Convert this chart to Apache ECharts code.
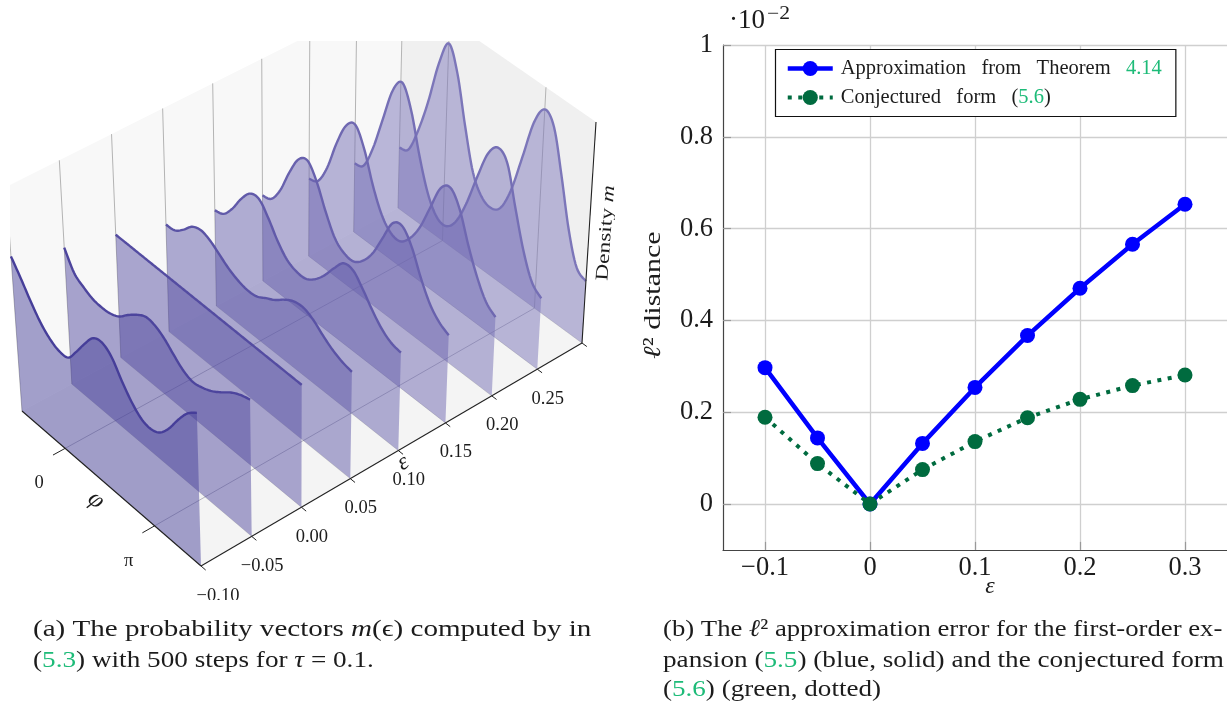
<!DOCTYPE html>
<html><head><meta charset="utf-8">
<style>html,body{margin:0;padding:0;background:#fff}#c{width:1227px;height:703px}</style>
<script src="https://cdn.jsdelivr.net/npm/echarts@6/dist/echarts.min.js"></script>
</head><body><div id="c"></div>
<script>
// ---------- data: right panel ----------
const epsErr = [-0.1,-0.05,0,0.05,0.1,0.15,0.2,0.25,0.3];
const approxErr = [0.297,0.144,0,0.132,0.254,0.367,0.47,0.566,0.653];
const conjErr = [0.189,0.088,0,0.075,0.136,0.188,0.228,0.258,0.281];
const xTicks = [-0.1,0,0.1,0.2,0.3];
const yTicks = [0,0.2,0.4,0.6,0.8,1];
// ---------- data: left panel ----------
const epsTicks = [-0.10,-0.05,0.00,0.05,0.10,0.15,0.20,0.25,0.30];
const epsLabels = ['−0.10','−0.05','0.00','0.05','0.10','0.15','0.20','0.25'];
const phiOverPi = [-0.5,-0.4,-0.3,-0.2,-0.1,0,0.1,0.2,0.3,0.4,0.5,0.6,0.7,0.8,0.9,1,1.1,1.2,1.3,1.4,1.5];
const densA = [.69,.625,.555,.495,.455,.435,.44,.50,.57,.63,.645,.615,.545,.485,.445,.435,.455,.51,.585,.65,.69];
const densB = [.61,.53,.50,.48,.475,.48,.50,.54,.575,.60,.595,.57,.53,.495,.48,.49,.51,.54,.575,.60,.615];
const densC = [.55,.55,.55,.55,.55,.55,.55,.55,.55,.55,.55,.55,.55,.55,.55,.55,.55,.55,.55,.55,.55];
const densD = [.48,.485,.52,.565,.58,.565,.535,.505,.485,.475,.48,.505,.53,.565,.59,.595,.575,.54,.51,.49,.48];
const densE = [.43,.445,.50,.575,.63,.635,.58,.51,.46,.44,.44,.47,.52,.585,.64,.64,.59,.53,.48,.45,.44];
const densF = [.385,.40,.47,.58,.67,.695,.63,.525,.44,.405,.40,.435,.50,.60,.70,.72,.66,.555,.47,.42,.395];
const densG = [.35,.37,.46,.60,.71,.745,.665,.53,.43,.38,.375,.42,.50,.62,.74,.775,.71,.58,.47,.39,.355];
const densH = [.31,.33,.44,.60,.76,.825,.73,.555,.415,.34,.33,.38,.49,.64,.78,.84,.80,.63,.47,.36,.32];
const densI = [.275,.295,.41,.57,.77,.895,.79,.58,.40,.32,.30,.33,.44,.62,.81,.90,.85,.66,.45,.31,.28];
const densities = [densA,densB,densC,densD,densE,densF,densG,densH,densI];

// ---------- projection of the 3-D box ----------
const FONT = 'Liberation Serif';
const TXT = '#1c1c1c';
function squareToQuad(p){
  const [x0,y0]=p[0],[x1,y1]=p[1],[x2,y2]=p[2],[x3,y3]=p[3];
  const dx1=x1-x2,dy1=y1-y2,dx2=x3-x2,dy2=y3-y2,sx=x0-x1+x2-x3,sy=y0-y1+y2-y3;
  const den=dx1*dy2-dx2*dy1, g=(sx*dy2-dx2*sy)/den, h=(dx1*sy-sx*dy1)/den;
  const a=x1-x0+g*x1,b=x3-x0+h*x3,d=y1-y0+g*y1,e=y3-y0+h*y3;
  return (u,v)=>{const w=g*u+h*v+1;return [(a*u+b*v+x0)/w,(d*u+e*v+y0)/w];};
}
const floorQ = squareToQuad([[22,411],[201,566],[582,343],[398,208]]);
const topQ = squareToQuad([[6,187],[195,344],[596,122],[403,-12]]);
const uOf = phi => (phi+0.5)/2;            // phi in units of pi
const vOf = e => (e+0.10)/0.40;
function proj(u,v,w){
  const a=floorQ(u,v), b=topQ(u,v);
  return [a[0]+(b[0]-a[0])*w, a[1]+(b[1]-a[1])*w];
}
function spline(pts){
  const out=[];
  for(let i=0;i<pts.length-1;i++){
    const p0=pts[Math.max(i-1,0)],p1=pts[i],p2=pts[i+1],p3=pts[Math.min(i+2,pts.length-1)];
    for(let k=0;k<8;k++){
      const t=k/8,t2=t*t,t3=t2*t;
      out.push([0,1].map(j=>0.5*(2*p1[j]+(p2[j]-p0[j])*t+(2*p0[j]-5*p1[j]+4*p2[j]-p3[j])*t2+(3*p1[j]-p0[j]-3*p2[j]+p3[j])*t3)));
    }
  }
  out.push(pts[pts.length-1]);
  return out;
}
const mix=(a,b,t)=>Math.round(a+(b-a)*t);

function renderBox(params,api){
  const c=p=>api.coord(p);
  const poly=(pts,fill)=>({type:'polygon',shape:{points:pts.map(c)},style:{fill:fill}});
  const line=(a,b,col,w)=>({type:'line',shape:{x1:c(a)[0],y1:c(a)[1],x2:c(b)[0],y2:c(b)[1]},style:{stroke:col,lineWidth:w,fill:null}});
  const ch=[];
  ch.push(poly([proj(0,0,0),proj(1,0,0),proj(1,1,0),proj(0,1,0)],'#f4f4f4'));
  ch.push(poly([proj(0,0,0),proj(0,1,0),proj(0,1,1),proj(0,0,1)],'#f8f8f8'));
  ch.push(poly([proj(0,1,0),proj(1,1,0),proj(1,1,1),proj(0,1,1)],'#f0f0f0'));
  epsTicks.forEach(e=>{
    const v=vOf(e);
    ch.push(line(proj(0,v,0),proj(0,v,1),'#b4b4b4',1));
    ch.push(line(proj(0,v,0),proj(1,v,0),'rgba(0,0,0,0.15)',1));
  });
  [0,1].forEach(ph=>{
    const u=uOf(ph);
    ch.push(line(proj(u,0,0),proj(u,1,0),'rgba(60,60,90,0.35)',1));
    ch.push(line(proj(u,1,0),proj(u,1,1),'#b4b4b4',1));
  });
  return {type:'group',children:ch};
}
function renderRibbon(params,api){
  const i=api.value(0), v=vOf(epsTicks[i]), vals=densities[i], t=i/8;
  const top=spline(phiOverPi.map((ph,k)=>proj(uOf(ph),v,vals[k]))).map(p=>api.coord(p));
  const base=[api.coord(proj(1,v,0)),api.coord(proj(0,v,0))];
  const r=mix(70,124,t),g=mix(62,118,t),b=mix(153,185,t);
  return {type:'group',children:[
    {type:'polygon',shape:{points:top.concat(base)},style:{fill:`rgba(${r},${g},${b},0.48)`}},
    {type:'polyline',shape:{points:top},style:{stroke:`rgb(${r},${g},${b})`,lineWidth:2.4,fill:null}}
  ]};
}
function renderFrame(params,api){
  const c=p=>api.coord(p);
  const line=(a,b,col,w)=>({type:'line',shape:{x1:c(a)[0],y1:c(a)[1],x2:c(b)[0],y2:c(b)[1]},style:{stroke:col,lineWidth:w,fill:null}});
  const txt=(p,s,o)=>Object.assign({type:'text',x:c(p)[0],y:c(p)[1],style:Object.assign({text:s,fill:TXT,font:(o&&o.font)||`18.5px "${FONT}"`,align:'center',verticalAlign:'middle'},o&&o.style)},o&&o.el);
  const ch=[
    line(proj(0,0,0),proj(1,0,0),'#222',1.1),
    line(proj(1,0,0),proj(1,1,0),'#222',1.1),
    line(proj(1,1,0),proj(1,1,1),'#222',1.1)
  ];
  epsTicks.forEach(e=>{const v=vOf(e);ch.push(line(proj(1,v,0),proj(1.025,v,0),'#222',1));});
  [0,1].forEach((ph,idx)=>{
    const u=uOf(ph);
    ch.push(line(proj(u,0,0),proj(u,-0.03,0),'#222',1));
    const e=proj(u,0,0);
    ch.push(txt([e[0]-26,e[1]+35],idx?'π':'0'));
  });
  epsLabels.forEach((s,i)=>{
    const e=proj(1,vOf(epsTicks[i]),0);
    ch.push(txt([e[0]+(i===0?17:10.5),e[1]+(i===0?30:29.5)],s));
  });
  ch.push(txt([96,500],'φ',{font:`italic 25px "${FONT}"`,el:{rotation:-0.72}}));
  ch.push(txt([403,463],'ε',{font:`italic 24px "${FONT}"`,el:{rotation:0.5}}));
  ch.push(txt([606,233],'Density {i|m}',{font:`18px "${FONT}"`,el:{rotation:1.5,scaleX:1.3},
    style:{rich:{i:{font:`italic 18px "${FONT}"`,fill:TXT}}}}));
  return {type:'group',children:ch};
}

// ---------- captions ----------
const GREEN='#1dbb78';
const measure=document.createElement('canvas').getContext('2d');
function captionLine(x,y,targetW,segs,size){
  measure.font=`${size}px "${FONT}"`;
  const plain=segs.map(s=>s[0]).join('');
  const w=measure.measureText(plain).width;
  const text=segs.map(s=>s[1]?`{${s[1]}|${s[0]}}`:s[0]).join('');
  return {type:'text',x:x,y:y,scaleX:targetW/w,silent:true,style:{text:text,fill:TXT,font:`${size}px "${FONT}"`,verticalAlign:'middle',
    rich:{g:{fill:GREEN,font:`${size}px "${FONT}"`},i:{fill:TXT,font:`italic ${size}px "${FONT}"`}}}};
}
const graphics=[
  captionLine(33,630,560,[['(a) The probability vectors '],['m','i'],['(ϵ) computed by in']],24),
  captionLine(33,661,342,[['('],['5.3','g'],[') with 500 steps for '],['τ','i'],[' = 0.1.']],24),
  captionLine(663,630,561,[['(b) The '],['ℓ','i'],['² approximation error for the first-order ex-']],24),
  captionLine(663,661,561,[['pansion ('],['5.5','g'],[') (blue, solid) and the conjectured form']],24),
  captionLine(663,690,218,[['('],['5.6','g'],[') (green, dotted)']],24),
  {type:'text',x:729,y:21,silent:true,style:{text:'·10',fill:TXT,font:`27px "${FONT}"`,verticalAlign:'middle'}},
  {type:'text',x:767,y:14,scaleX:1.2,silent:true,style:{text:'−2',fill:TXT,font:`18px "${FONT}"`,verticalAlign:'middle'}},
  {type:'text',x:654,y:295,rotation:Math.PI/2,scaleX:1.25,silent:true,style:{text:'{i|ℓ}² distance',fill:TXT,font:`24px "${FONT}"`,align:'center',verticalAlign:'middle',
    rich:{i:{fill:TXT,font:`italic 24px "${FONT}"`}}}}
];

const NAME_A='Approximation   from   Theorem   4.14', NAME_B='Conjectured   form   (5.6)';
const numFmt=v=>{const r=Math.round(v*100)/100;return r<0?'−'+Math.abs(r):String(r);};
const option={
  animation:false,
  backgroundColor:'#fff',
  graphic:graphics,
  grid:[
    {left:10,top:41,width:605,height:559,show:false},
    {left:723,top:45,width:504,height:504.9,show:false}
  ],
  xAxis:[
    {gridIndex:0,type:'value',min:10,max:615,show:false},
    {gridIndex:1,type:'value',min:-0.14,max:0.34,
     axisLine:{onZero:false,lineStyle:{color:'#444',width:1.2}},
     axisTick:{inside:true,length:8,customValues:xTicks,lineStyle:{color:'#999',width:1.2}},
     axisLabel:{customValues:xTicks,formatter:numFmt,color:TXT,fontFamily:FONT,fontSize:26.5,margin:5,showMinLabel:true,showMaxLabel:true},
     splitLine:{show:true,lineStyle:{color:'#cfcfcf',width:1.3}},
     name:'ε',nameLocation:'middle',nameGap:25,nameMoveOverlap:false,nameTextStyle:{fontFamily:FONT,fontStyle:'italic',fontSize:24,color:TXT,padding:[0,0,0,30]}}
  ],
  yAxis:[
    {gridIndex:0,type:'value',min:41,max:600,inverse:true,show:false},
    {gridIndex:1,type:'value',min:-0.1,max:1,
     axisLine:{show:true,onZero:false,lineStyle:{color:'#444',width:1.2}},
     axisTick:{show:true,inside:true,length:8,customValues:yTicks,lineStyle:{color:'#999',width:1.2}},
     axisLabel:{customValues:yTicks,formatter:numFmt,color:TXT,fontFamily:FONT,fontSize:26.5,margin:10},
     splitLine:{show:true,lineStyle:{color:'#cfcfcf',width:1.3}}}
  ],
  legend:{
    data:[NAME_A,NAME_B],
    left:775.5,top:49.5,orient:'vertical',
    padding:[8.5,14,8.5,10],itemGap:8,itemWidth:45,itemHeight:19,
    borderColor:'#111',borderWidth:1.2,backgroundColor:'#fff',
    lineStyle:{width:'inherit',type:'inherit'},
    formatter:n=>n===NAME_A?'Approximation   from   Theorem   {g|4.14}':'Conjectured   form   ({g|5.6})',
    textStyle:{fontFamily:FONT,fontSize:20.5,color:TXT,padding:[0,0,0,3],rich:{g:{color:GREEN,fontFamily:FONT,fontSize:20.5}}}
  },
  series:[
    {type:'custom',xAxisIndex:0,yAxisIndex:0,clip:true,silent:true,z:1,data:[[0]],renderItem:renderBox},
    {type:'custom',xAxisIndex:0,yAxisIndex:0,clip:true,silent:true,z:2,data:[8,7,6,5,4,3,2,1,0].map(i=>[i]),renderItem:renderRibbon},
    {type:'custom',xAxisIndex:0,yAxisIndex:0,clip:true,silent:true,z:3,data:[[0]],renderItem:renderFrame},
    {name:NAME_A,type:'line',xAxisIndex:1,yAxisIndex:1,z:4,data:epsErr.map((e,i)=>[e,approxErr[i]]),
     symbol:'circle',symbolSize:15,lineStyle:{color:'#0000ff',width:4.5},itemStyle:{color:'#0000ff'}},
    {name:NAME_B,type:'line',xAxisIndex:1,yAxisIndex:1,z:5,data:epsErr.map((e,i)=>[e,conjErr[i]]),
     symbol:'circle',symbolSize:15,lineStyle:{color:'#006b3f',width:4,type:[4,6.5]},itemStyle:{color:'#006b3f'}}
  ]
};
echarts.init(document.getElementById('c'),null,{renderer:'canvas'}).setOption(option);
</script></body></html>
